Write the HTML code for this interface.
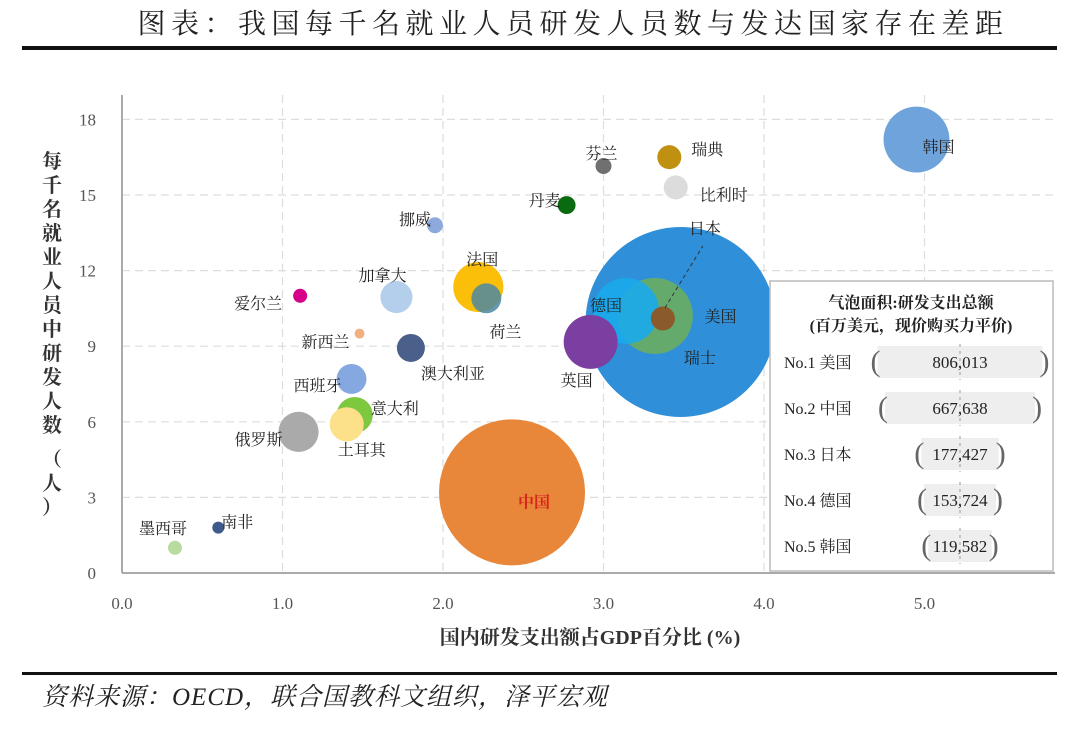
<!DOCTYPE html>
<html><head><meta charset="utf-8">
<style>
body{margin:0;background:#fff;width:1080px;height:731px;overflow:hidden;font-family:"Liberation Serif","Noto Serif CJK SC",serif;}
svg text{font-family:"Liberation Serif","Noto Serif CJK SC",serif;}
</style></head><body>
<svg id="chart" width="1080" height="731" xmlns="http://www.w3.org/2000/svg">
<text x="573" y="33" text-anchor="middle" font-size="28" fill="#222" letter-spacing="5.5">图表：我国每千名就业人员研发人员数与发达国家存在差距</text>
<rect x="22" y="46" width="1035" height="4" fill="#111"/>
<rect x="22" y="672" width="1035" height="3" fill="#111"/>
<text x="42" y="705" font-size="25" font-style="italic" fill="#222" letter-spacing="1">资料来源：OECD，联合国教科文组织，泽平宏观</text>
<g id="grid"></g>
<g id="bubbles"></g>
<g id="labels"></g>
<g id="axes"></g>
<text x="590" y="644" text-anchor="middle" font-size="20" font-weight="bold" fill="#333">国内研发支出额占GDP百分比 (%)</text>
<text font-size="20" font-weight="bold" fill="#333" text-anchor="middle">
<tspan x="52" y="168">每</tspan><tspan x="52" y="192">千</tspan><tspan x="52" y="216">名</tspan><tspan x="52" y="240">就</tspan><tspan x="52" y="264">业</tspan><tspan x="52" y="288">人</tspan><tspan x="52" y="312">员</tspan><tspan x="52" y="336">中</tspan><tspan x="52" y="360">研</tspan><tspan x="52" y="384">发</tspan><tspan x="52" y="408">人</tspan><tspan x="52" y="432">数</tspan><tspan x="52" y="466">（</tspan><tspan x="52" y="490">人</tspan><tspan x="52" y="514">）</tspan>
</text>
<g id="legend">
<rect x="770" y="281" width="283" height="290" fill="#fff" stroke="#bbb" stroke-width="1.5"/>
<text x="911" y="308" text-anchor="middle" font-size="16" font-weight="bold" fill="#222">气泡面积:研发支出总额</text>
<text x="911" y="331" text-anchor="middle" font-size="16" font-weight="bold" fill="#222">(百万美元，现价购买力平价)</text>
</g>
</svg>
<script>
const countries=["韩国","美国","中国","日本","德国","瑞士","英国","芬兰","瑞典","比利时","丹麦","挪威","法国","荷兰","加拿大","爱尔兰","新西兰","澳大利亚","西班牙","意大利","土耳其","俄罗斯","南非","墨西哥"];
const rdGdp=[4.95,3.48,2.43,3.32,3.14,3.37,2.92,3.0,3.41,3.45,2.77,1.95,2.22,2.27,1.71,1.11,1.48,1.80,1.43,1.45,1.40,1.10,0.60,0.33];
const researchers=[17.2,9.96,3.2,10.2,10.4,10.1,9.17,16.15,16.5,15.3,14.6,13.8,11.35,10.9,10.95,11.0,9.5,8.93,7.7,6.27,5.9,5.6,1.8,1.0];
const rdSpend=[97000,806013,476000,129000,97000,12900,65000,5700,12900,12900,7200,5700,56000,20000,23000,4400,2200,17500,20000,29000,26000,36000,3200,4400];
const xTicks=[0,1,2,3,4,5];
const xTickLabels=["0.0","1.0","2.0","3.0","4.0","5.0"];
const yTicks=[0,3,6,9,12,15,18];
const legendNames=["No.1  美国","No.2  中国","No.3  日本","No.4  德国","No.5  韩国"];
const legendValues=[806013,667638,177427,153724,119582];

const colors=["#6fa3dc","#2f8fd8","#e8873a","rgba(110,175,90,0.85)","rgba(25,170,235,0.9)","#8a5a2b","#7a3fa0","#707070","#c09010","#dcdcdc","#0a6a10","#8eaadc","#fbbf0a","rgba(75,135,160,0.85)","#b4cfec","#d6008a","#f2b080","#4a5f8a","#85a8e0","#7ec840","#fde08a","#aaaaaa","#3e5a8a","#b8dca0"];
const labelOff={"韩国":[22,7,"middle"],"美国":[40,-6,"middle"],"中国":[22,9,"middle"],"日本":[50,-88,"middle"],"德国":[-20,-6,"middle"],"瑞士":[37,39,"middle"],"英国":[-14,38,"middle"],"芬兰":[-2,-13,"middle"],"瑞典":[38,-8,"middle"],"比利时":[48,7,"middle"],"丹麦":[-22,-5,"middle"],"挪威":[-20,-6,"middle"],"法国":[4,-28,"middle"],"荷兰":[19,33,"middle"],"加拿大":[-14,-22,"middle"],"爱尔兰":[-42,7,"middle"],"新西兰":[-34,8,"middle"],"澳大利亚":[42,25,"middle"],"西班牙":[-34,6,"middle"],"意大利":[40,-7,"middle"],"土耳其":[15,25,"middle"],"俄罗斯":[-40,7,"middle"],"南非":[19,-6,"middle"],"墨西哥":[-12,-20,"middle"]};

const X0=122,XS=160.5,Y0=573,YS=25.2;
const xs=v=>X0+v*XS, ys=v=>Y0-v*YS;
const rScale=v=>95*Math.sqrt(v/806013);
const NS="http://www.w3.org/2000/svg";
function mk(tag,attrs,parent){const e=document.createElementNS(NS,tag);for(const k in attrs)e.setAttribute(k,attrs[k]);parent.appendChild(e);return e;}
const grid=document.getElementById('grid'),axes=document.getElementById('axes'),bub=document.getElementById('bubbles'),lab=document.getElementById('labels');
yTicks.forEach(t=>{ if(t>0){const l=mk('line',{x1:X0,x2:1055,y1:ys(t),y2:ys(t),stroke:'#ddd','stroke-dasharray':'8,5','stroke-width':1.2},grid);}
 const tx=mk('text',{x:X0-26,y:ys(t)+6,'text-anchor':'end','font-size':17,fill:'#555','font-family':'Liberation Sans, sans-serif'},axes);tx.textContent=t;});
xTicks.forEach((t,i)=>{ if(t>0){const l=mk('line',{x1:xs(t),x2:xs(t),y1:95,y2:Y0,stroke:'#ddd','stroke-dasharray':'8,5','stroke-width':1.2},grid);}
 const tx=mk('text',{x:xs(t),y:609,'text-anchor':'middle','font-size':17,fill:'#555','font-family':'Liberation Sans, sans-serif'},axes);tx.textContent=xTickLabels[i];});
const ya=mk('line',{x1:X0,x2:X0,y1:95,y2:Y0,stroke:'#aaa','stroke-width':2},axes);
const xa=mk('line',{x1:X0,x2:1055,y1:Y0,y2:Y0,stroke:'#aaa','stroke-width':2},axes);
countries.forEach((c,i)=>{
 const cx=xs(rdGdp[i]),cy=ys(researchers[i]);
 const ci=mk('circle',{cx:cx,cy:cy,r:rScale(rdSpend[i]),fill:colors[i]},bub);
 
 
 const o=labelOff[c];
 const t=mk('text',{x:cx+o[0],y:cy+o[1]+6,'text-anchor':o[2],'font-size':16,fill:c==="中国"?"#d9261c":"#222",'font-weight':c==="中国"?"bold":"normal"},lab);
 t.textContent=c;
 
 
});
const jx=xs(rdGdp[3]),jy=ys(researchers[3]);
const ld=mk('line',{x1:jx+10,y1:jy-8,x2:jx+48,y2:jy-70,stroke:'#333','stroke-dasharray':'4,3','stroke-width':1},lab);

const leg=document.getElementById('legend');
legendValues.forEach((v,i)=>{
 const y=362+i*46;
 const t=mk('text',{x:784,y:y+6,'font-size':16,fill:'#222'},leg);t.textContent=legendNames[i];
 
 const w=165*Math.sqrt(v/806013), cx=960;
 const r=mk('rect',{x:cx-w/2,y:y-16,width:w,height:32,fill:'#eee'},leg);
 
 const dl=mk('line',{x1:cx,x2:cx,y1:y-18,y2:y+18,stroke:'#999','stroke-dasharray':'3,4','stroke-width':1},leg);
 
 const p1=mk('text',{x:cx-w/2-2,y:y+9,'text-anchor':'middle','font-size':30,fill:'#666'},leg);p1.textContent='(';
 
 const p2=mk('text',{x:cx+w/2+2,y:y+9,'text-anchor':'middle','font-size':30,fill:'#666'},leg);p2.textContent=')';
 
 const vt=mk('text',{x:cx,y:y+6,'text-anchor':'middle','font-size':17,fill:'#222'},leg);vt.textContent=v.toLocaleString('en-US');
 
});
</script>
</body></html>
